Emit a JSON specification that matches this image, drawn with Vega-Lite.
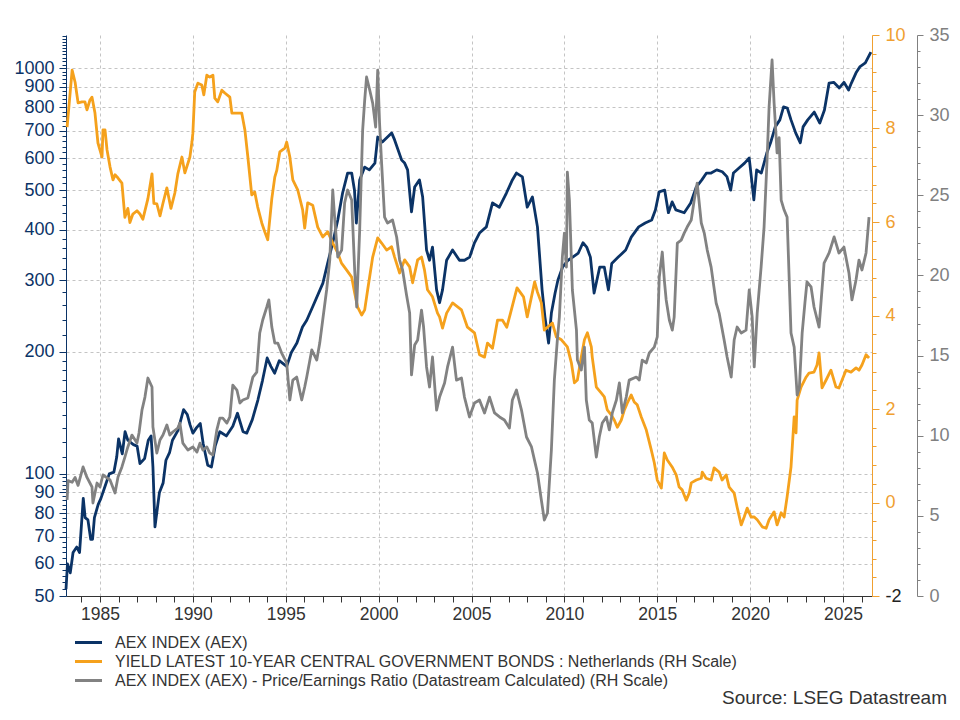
{
  "$schema": "https://vega.github.io/schema/vega-lite/v6.json",
  "width": 806,
  "height": 561,
  "autosize": {"type": "none"},
  "padding": {"left": 66, "top": 35, "right": 88, "bottom": 124},
  "background": "white",
  "config": {
    "view": {"stroke": null},
    "font": "Liberation Sans"
  },
  "title": {
    "text": "Source: LSEG Datastream",
    "orient": "bottom",
    "anchor": "end",
    "frame": "group",
    "dx": 75,
    "offset": 0,
    "fontSize": 19,
    "fontWeight": "normal",
    "font": "Liberation Sans",
    "color": "#333333"
  },
  "datasets": {
    "aex": [
      {"year": 1983.17, "value": 52}, {"year": 1983.25, "value": 60}, {"year": 1983.4, "value": 57}, {"year": 1983.55, "value": 64},
      {"year": 1983.75, "value": 66}, {"year": 1983.9, "value": 64}, {"year": 1984.1, "value": 87}, {"year": 1984.2, "value": 78},
      {"year": 1984.35, "value": 77}, {"year": 1984.5, "value": 69}, {"year": 1984.6, "value": 69}, {"year": 1984.7, "value": 78},
      {"year": 1984.9, "value": 84}, {"year": 1985.05, "value": 87}, {"year": 1985.3, "value": 94}, {"year": 1985.5, "value": 100},
      {"year": 1985.75, "value": 101}, {"year": 1985.9, "value": 110}, {"year": 1986.0, "value": 122}, {"year": 1986.2, "value": 112},
      {"year": 1986.35, "value": 127}, {"year": 1986.5, "value": 121}, {"year": 1986.8, "value": 118}, {"year": 1987.0, "value": 117},
      {"year": 1987.15, "value": 106}, {"year": 1987.4, "value": 109}, {"year": 1987.6, "value": 121}, {"year": 1987.75, "value": 124},
      {"year": 1987.85, "value": 104}, {"year": 1987.96, "value": 74}, {"year": 1988.1, "value": 83}, {"year": 1988.2, "value": 90},
      {"year": 1988.4, "value": 95}, {"year": 1988.55, "value": 108}, {"year": 1988.75, "value": 113}, {"year": 1988.9, "value": 121},
      {"year": 1989.2, "value": 128}, {"year": 1989.5, "value": 144}, {"year": 1989.7, "value": 140}, {"year": 1989.85, "value": 132},
      {"year": 1990.0, "value": 126}, {"year": 1990.2, "value": 130}, {"year": 1990.4, "value": 133}, {"year": 1990.55, "value": 119},
      {"year": 1990.8, "value": 105}, {"year": 1991.0, "value": 104}, {"year": 1991.2, "value": 117}, {"year": 1991.45, "value": 127},
      {"year": 1991.8, "value": 124}, {"year": 1992.15, "value": 131}, {"year": 1992.4, "value": 141}, {"year": 1992.7, "value": 127},
      {"year": 1992.9, "value": 126}, {"year": 1993.2, "value": 136}, {"year": 1993.5, "value": 152}, {"year": 1993.75, "value": 170},
      {"year": 1994.0, "value": 193}, {"year": 1994.2, "value": 184}, {"year": 1994.4, "value": 177}, {"year": 1994.65, "value": 190},
      {"year": 1995.05, "value": 184}, {"year": 1995.3, "value": 199}, {"year": 1995.6, "value": 210}, {"year": 1995.9, "value": 230},
      {"year": 1996.13, "value": 239}, {"year": 1996.45, "value": 258}, {"year": 1997.0, "value": 295}, {"year": 1997.26, "value": 331},
      {"year": 1997.53, "value": 371}, {"year": 1997.8, "value": 422}, {"year": 1998.06, "value": 492}, {"year": 1998.33, "value": 551},
      {"year": 1998.55, "value": 551}, {"year": 1998.7, "value": 500}, {"year": 1998.8, "value": 415}, {"year": 1998.98, "value": 530},
      {"year": 1999.25, "value": 570}, {"year": 1999.5, "value": 561}, {"year": 1999.8, "value": 583}, {"year": 1999.95, "value": 676},
      {"year": 2000.2, "value": 657}, {"year": 2000.7, "value": 692}, {"year": 2000.86, "value": 665}, {"year": 2001.24, "value": 593},
      {"year": 2001.4, "value": 583}, {"year": 2001.56, "value": 561}, {"year": 2001.77, "value": 442}, {"year": 2001.94, "value": 509},
      {"year": 2002.2, "value": 530}, {"year": 2002.37, "value": 481}, {"year": 2002.58, "value": 356}, {"year": 2002.74, "value": 336},
      {"year": 2002.9, "value": 362}, {"year": 2003.12, "value": 284}, {"year": 2003.28, "value": 264}, {"year": 2003.44, "value": 284},
      {"year": 2003.66, "value": 336}, {"year": 2003.98, "value": 356}, {"year": 2004.35, "value": 336}, {"year": 2004.62, "value": 336},
      {"year": 2004.9, "value": 342}, {"year": 2005.16, "value": 371}, {"year": 2005.43, "value": 392}, {"year": 2005.8, "value": 406},
      {"year": 2006.13, "value": 465}, {"year": 2006.5, "value": 454}, {"year": 2006.88, "value": 492}, {"year": 2007.2, "value": 530},
      {"year": 2007.42, "value": 551}, {"year": 2007.74, "value": 539}, {"year": 2008.0, "value": 454}, {"year": 2008.28, "value": 481},
      {"year": 2008.55, "value": 406}, {"year": 2008.8, "value": 284}, {"year": 2008.95, "value": 244}, {"year": 2009.15, "value": 210},
      {"year": 2009.3, "value": 249}, {"year": 2009.5, "value": 279}, {"year": 2009.65, "value": 300}, {"year": 2009.9, "value": 323},
      {"year": 2010.2, "value": 336}, {"year": 2010.45, "value": 342}, {"year": 2010.75, "value": 350}, {"year": 2011.0, "value": 371},
      {"year": 2011.2, "value": 362}, {"year": 2011.4, "value": 342}, {"year": 2011.6, "value": 279}, {"year": 2011.9, "value": 323},
      {"year": 2012.15, "value": 323}, {"year": 2012.37, "value": 284}, {"year": 2012.55, "value": 330}, {"year": 2012.9, "value": 342},
      {"year": 2013.3, "value": 356}, {"year": 2013.6, "value": 383}, {"year": 2014.0, "value": 406}, {"year": 2014.35, "value": 415},
      {"year": 2014.7, "value": 422}, {"year": 2014.9, "value": 447}, {"year": 2015.1, "value": 495}, {"year": 2015.4, "value": 500},
      {"year": 2015.6, "value": 440}, {"year": 2015.8, "value": 468}, {"year": 2016.0, "value": 447}, {"year": 2016.45, "value": 440},
      {"year": 2016.8, "value": 465}, {"year": 2017.1, "value": 509}, {"year": 2017.4, "value": 530}, {"year": 2017.65, "value": 551},
      {"year": 2017.9, "value": 551}, {"year": 2018.2, "value": 561}, {"year": 2018.5, "value": 555}, {"year": 2018.75, "value": 540},
      {"year": 2018.95, "value": 500}, {"year": 2019.1, "value": 551}, {"year": 2019.4, "value": 567}, {"year": 2019.7, "value": 583},
      {"year": 2019.95, "value": 600}, {"year": 2020.1, "value": 521}, {"year": 2020.2, "value": 473}, {"year": 2020.35, "value": 561},
      {"year": 2020.6, "value": 551}, {"year": 2020.9, "value": 618}, {"year": 2021.1, "value": 654}, {"year": 2021.35, "value": 716},
      {"year": 2021.6, "value": 745}, {"year": 2021.8, "value": 802}, {"year": 2022.0, "value": 797}, {"year": 2022.2, "value": 745},
      {"year": 2022.45, "value": 692}, {"year": 2022.7, "value": 654}, {"year": 2022.85, "value": 716}, {"year": 2023.1, "value": 745},
      {"year": 2023.45, "value": 779}, {"year": 2023.75, "value": 732}, {"year": 2024.0, "value": 788}, {"year": 2024.25, "value": 918},
      {"year": 2024.5, "value": 922}, {"year": 2024.8, "value": 893}, {"year": 2025.05, "value": 922}, {"year": 2025.3, "value": 883},
      {"year": 2025.45, "value": 918}, {"year": 2025.7, "value": 973}, {"year": 2025.9, "value": 1006}, {"year": 2026.2, "value": 1029},
      {"year": 2026.5, "value": 1095}
    ],
    "yield": [
      {"year": 1983.23, "value": 8.03}, {"year": 1983.5, "value": 9.25}, {"year": 1983.66, "value": 8.99}, {"year": 1983.82, "value": 8.55},
      {"year": 1984.03, "value": 8.57}, {"year": 1984.19, "value": 8.57}, {"year": 1984.3, "value": 8.4}, {"year": 1984.46, "value": 8.61},
      {"year": 1984.57, "value": 8.67}, {"year": 1984.73, "value": 8.33}, {"year": 1984.89, "value": 7.69}, {"year": 1985.11, "value": 7.39},
      {"year": 1985.16, "value": 7.97}, {"year": 1985.27, "value": 7.97}, {"year": 1985.38, "value": 7.54}, {"year": 1985.54, "value": 7.18},
      {"year": 1985.7, "value": 6.9}, {"year": 1985.81, "value": 7.01}, {"year": 1985.97, "value": 6.94}, {"year": 1986.18, "value": 6.83},
      {"year": 1986.34, "value": 6.1}, {"year": 1986.5, "value": 6.29}, {"year": 1986.61, "value": 5.99}, {"year": 1986.77, "value": 6.17},
      {"year": 1986.99, "value": 6.24}, {"year": 1987.15, "value": 6.17}, {"year": 1987.31, "value": 6.06}, {"year": 1987.58, "value": 6.5},
      {"year": 1987.8, "value": 7.03}, {"year": 1987.9, "value": 6.4}, {"year": 1988.06, "value": 6.39}, {"year": 1988.23, "value": 6.13},
      {"year": 1988.39, "value": 6.4}, {"year": 1988.6, "value": 6.73}, {"year": 1988.82, "value": 6.29}, {"year": 1989.03, "value": 6.62},
      {"year": 1989.19, "value": 7.03}, {"year": 1989.41, "value": 7.39}, {"year": 1989.57, "value": 7.05}, {"year": 1989.84, "value": 7.39},
      {"year": 1989.95, "value": 7.71}, {"year": 1990.0, "value": 7.9}, {"year": 1990.1, "value": 8.78}, {"year": 1990.27, "value": 8.97},
      {"year": 1990.48, "value": 8.93}, {"year": 1990.59, "value": 8.72}, {"year": 1990.75, "value": 9.14}, {"year": 1990.91, "value": 9.1},
      {"year": 1991.08, "value": 9.14}, {"year": 1991.18, "value": 8.65}, {"year": 1991.34, "value": 8.57}, {"year": 1991.56, "value": 8.82},
      {"year": 1991.72, "value": 8.76}, {"year": 1991.99, "value": 8.67}, {"year": 1992.1, "value": 8.33}, {"year": 1992.42, "value": 8.33},
      {"year": 1992.63, "value": 8.33}, {"year": 1992.8, "value": 7.97}, {"year": 1992.96, "value": 7.39}, {"year": 1993.17, "value": 6.58},
      {"year": 1993.33, "value": 6.64}, {"year": 1993.49, "value": 6.32}, {"year": 1993.71, "value": 5.98}, {"year": 1993.87, "value": 5.79},
      {"year": 1994.03, "value": 5.62}, {"year": 1994.25, "value": 6.5}, {"year": 1994.41, "value": 6.96}, {"year": 1994.52, "value": 7.11},
      {"year": 1994.68, "value": 7.5}, {"year": 1994.95, "value": 7.58}, {"year": 1995.05, "value": 7.71}, {"year": 1995.22, "value": 7.39},
      {"year": 1995.38, "value": 6.9}, {"year": 1995.65, "value": 6.68}, {"year": 1995.91, "value": 6.26}, {"year": 1996.02, "value": 5.87},
      {"year": 1996.18, "value": 6.41}, {"year": 1996.45, "value": 6.36}, {"year": 1996.72, "value": 5.89}, {"year": 1996.99, "value": 5.68},
      {"year": 1997.26, "value": 5.79}, {"year": 1997.53, "value": 5.55}, {"year": 1997.8, "value": 5.34}, {"year": 1998.0, "value": 5.12},
      {"year": 1998.28, "value": 4.97}, {"year": 1998.55, "value": 4.82}, {"year": 1998.71, "value": 4.48}, {"year": 1998.87, "value": 4.18},
      {"year": 1999.09, "value": 4.01}, {"year": 1999.25, "value": 4.12}, {"year": 1999.41, "value": 4.55}, {"year": 1999.68, "value": 5.25},
      {"year": 1999.95, "value": 5.66}, {"year": 2000.16, "value": 5.55}, {"year": 2000.43, "value": 5.4}, {"year": 2000.7, "value": 5.47},
      {"year": 2000.86, "value": 5.25}, {"year": 2001.13, "value": 4.91}, {"year": 2001.4, "value": 5.19}, {"year": 2001.67, "value": 5.04},
      {"year": 2001.83, "value": 4.7}, {"year": 2002.1, "value": 5.19}, {"year": 2002.31, "value": 5.25}, {"year": 2002.47, "value": 4.97},
      {"year": 2002.63, "value": 4.55}, {"year": 2002.9, "value": 4.4}, {"year": 2003.17, "value": 4.05}, {"year": 2003.28, "value": 3.97},
      {"year": 2003.44, "value": 3.73}, {"year": 2003.66, "value": 4.05}, {"year": 2003.98, "value": 4.27}, {"year": 2004.46, "value": 4.12},
      {"year": 2004.78, "value": 3.75}, {"year": 2005.16, "value": 3.63}, {"year": 2005.43, "value": 3.16}, {"year": 2005.7, "value": 3.11},
      {"year": 2005.86, "value": 3.41}, {"year": 2006.13, "value": 3.3}, {"year": 2006.4, "value": 3.9}, {"year": 2006.67, "value": 3.9},
      {"year": 2006.9, "value": 3.75}, {"year": 2007.1, "value": 4.05}, {"year": 2007.45, "value": 4.59}, {"year": 2007.8, "value": 4.4},
      {"year": 2008.0, "value": 3.97}, {"year": 2008.4, "value": 4.72}, {"year": 2008.55, "value": 4.5}, {"year": 2008.76, "value": 4.27},
      {"year": 2008.92, "value": 3.69}, {"year": 2009.09, "value": 3.75}, {"year": 2009.35, "value": 3.84}, {"year": 2009.57, "value": 3.54},
      {"year": 2009.84, "value": 3.48}, {"year": 2010.16, "value": 3.33}, {"year": 2010.38, "value": 2.98}, {"year": 2010.54, "value": 2.56},
      {"year": 2010.7, "value": 2.62}, {"year": 2010.91, "value": 3.11}, {"year": 2011.08, "value": 3.48}, {"year": 2011.24, "value": 3.63},
      {"year": 2011.45, "value": 3.33}, {"year": 2011.5, "value": 3.11}, {"year": 2011.72, "value": 2.47}, {"year": 2011.99, "value": 2.34},
      {"year": 2012.15, "value": 2.26}, {"year": 2012.31, "value": 1.98}, {"year": 2012.53, "value": 1.87}, {"year": 2012.69, "value": 1.76},
      {"year": 2012.85, "value": 1.61}, {"year": 2013.06, "value": 1.76}, {"year": 2013.23, "value": 1.98}, {"year": 2013.39, "value": 2.13},
      {"year": 2013.6, "value": 2.3}, {"year": 2013.76, "value": 2.15}, {"year": 2013.92, "value": 2.09}, {"year": 2014.14, "value": 1.83},
      {"year": 2014.41, "value": 1.55}, {"year": 2014.68, "value": 1.12}, {"year": 2014.84, "value": 0.85}, {"year": 2015.0, "value": 0.48},
      {"year": 2015.22, "value": 0.31}, {"year": 2015.38, "value": 1.06}, {"year": 2015.54, "value": 0.91}, {"year": 2015.8, "value": 0.76},
      {"year": 2016.02, "value": 0.59}, {"year": 2016.18, "value": 0.33}, {"year": 2016.34, "value": 0.27}, {"year": 2016.56, "value": 0.05},
      {"year": 2016.72, "value": 0.2}, {"year": 2016.83, "value": 0.42}, {"year": 2017.1, "value": 0.48}, {"year": 2017.37, "value": 0.52},
      {"year": 2017.42, "value": 0.65}, {"year": 2017.63, "value": 0.52}, {"year": 2017.9, "value": 0.48}, {"year": 2018.06, "value": 0.74},
      {"year": 2018.33, "value": 0.65}, {"year": 2018.49, "value": 0.48}, {"year": 2018.71, "value": 0.59}, {"year": 2018.87, "value": 0.33},
      {"year": 2019.14, "value": 0.2}, {"year": 2019.3, "value": -0.1}, {"year": 2019.52, "value": -0.48}, {"year": 2019.68, "value": -0.31},
      {"year": 2019.84, "value": -0.12}, {"year": 2020.05, "value": -0.31}, {"year": 2020.22, "value": -0.31}, {"year": 2020.38, "value": -0.37},
      {"year": 2020.65, "value": -0.52}, {"year": 2020.86, "value": -0.55}, {"year": 2021.02, "value": -0.37}, {"year": 2021.29, "value": -0.2},
      {"year": 2021.45, "value": -0.48}, {"year": 2021.67, "value": -0.22}, {"year": 2021.83, "value": -0.31}, {"year": 2021.99, "value": 0.12},
      {"year": 2022.2, "value": 0.76}, {"year": 2022.37, "value": 1.83}, {"year": 2022.47, "value": 1.49}, {"year": 2022.53, "value": 2.19},
      {"year": 2022.74, "value": 2.47}, {"year": 2023.01, "value": 2.68}, {"year": 2023.17, "value": 2.77}, {"year": 2023.44, "value": 2.79},
      {"year": 2023.6, "value": 2.94}, {"year": 2023.71, "value": 3.2}, {"year": 2023.87, "value": 2.45}, {"year": 2024.09, "value": 2.62},
      {"year": 2024.35, "value": 2.83}, {"year": 2024.62, "value": 2.47}, {"year": 2024.78, "value": 2.45}, {"year": 2024.95, "value": 2.62},
      {"year": 2025.16, "value": 2.83}, {"year": 2025.43, "value": 2.79}, {"year": 2025.7, "value": 2.88}, {"year": 2025.86, "value": 2.83},
      {"year": 2026.02, "value": 2.94}, {"year": 2026.24, "value": 3.16}, {"year": 2026.4, "value": 3.09}
    ],
    "pe": [
      {"year": 1983.23, "value": 6.0}, {"year": 1983.28, "value": 7.2}, {"year": 1983.5, "value": 7.1}, {"year": 1983.66, "value": 7.4},
      {"year": 1983.82, "value": 6.9}, {"year": 1984.09, "value": 8.05}, {"year": 1984.3, "value": 7.4}, {"year": 1984.57, "value": 6.8},
      {"year": 1984.62, "value": 5.8}, {"year": 1984.84, "value": 7.05}, {"year": 1985.0, "value": 6.8}, {"year": 1985.16, "value": 7.55},
      {"year": 1985.54, "value": 7.24}, {"year": 1985.81, "value": 6.43}, {"year": 1985.97, "value": 7.42}, {"year": 1986.18, "value": 8.05},
      {"year": 1986.34, "value": 8.67}, {"year": 1986.5, "value": 9.3}, {"year": 1986.72, "value": 10.04}, {"year": 1986.99, "value": 9.54},
      {"year": 1987.1, "value": 10.17}, {"year": 1987.26, "value": 11.6}, {"year": 1987.42, "value": 12.41}, {"year": 1987.58, "value": 13.6},
      {"year": 1987.8, "value": 13.04}, {"year": 1987.85, "value": 10.54}, {"year": 1988.06, "value": 8.92}, {"year": 1988.23, "value": 9.73},
      {"year": 1988.39, "value": 10.04}, {"year": 1988.6, "value": 10.67}, {"year": 1988.76, "value": 10.04}, {"year": 1988.92, "value": 10.23},
      {"year": 1989.19, "value": 10.48}, {"year": 1989.3, "value": 10.79}, {"year": 1989.46, "value": 9.54}, {"year": 1989.73, "value": 9.11},
      {"year": 1990.0, "value": 9.3}, {"year": 1990.22, "value": 8.98}, {"year": 1990.38, "value": 9.54}, {"year": 1990.54, "value": 9.11},
      {"year": 1990.75, "value": 9.3}, {"year": 1990.91, "value": 8.92}, {"year": 1991.08, "value": 8.8}, {"year": 1991.29, "value": 10.36},
      {"year": 1991.45, "value": 11.1}, {"year": 1991.61, "value": 11.1}, {"year": 1991.83, "value": 10.79}, {"year": 1991.99, "value": 11.17},
      {"year": 1992.15, "value": 13.16}, {"year": 1992.37, "value": 12.85}, {"year": 1992.53, "value": 12.04}, {"year": 1992.69, "value": 12.23},
      {"year": 1992.96, "value": 12.35}, {"year": 1993.23, "value": 13.66}, {"year": 1993.44, "value": 13.97}, {"year": 1993.6, "value": 16.41},
      {"year": 1993.76, "value": 17.22}, {"year": 1993.98, "value": 18.03}, {"year": 1994.09, "value": 18.47}, {"year": 1994.25, "value": 16.78},
      {"year": 1994.41, "value": 15.78}, {"year": 1994.57, "value": 15.78}, {"year": 1994.78, "value": 15.16}, {"year": 1995.05, "value": 14.54},
      {"year": 1995.22, "value": 12.23}, {"year": 1995.38, "value": 13.47}, {"year": 1995.59, "value": 13.66}, {"year": 1995.86, "value": 12.23},
      {"year": 1996.02, "value": 13.04}, {"year": 1996.13, "value": 13.66}, {"year": 1996.4, "value": 15.35}, {"year": 1996.67, "value": 14.72},
      {"year": 1996.83, "value": 15.78}, {"year": 1996.99, "value": 17.22}, {"year": 1997.2, "value": 19.09}, {"year": 1997.37, "value": 20.96},
      {"year": 1997.53, "value": 25.33}, {"year": 1997.63, "value": 23.64}, {"year": 1997.8, "value": 21.15}, {"year": 1998.01, "value": 21.58},
      {"year": 1998.17, "value": 24.52}, {"year": 1998.33, "value": 25.33}, {"year": 1998.55, "value": 24.7}, {"year": 1998.71, "value": 20.34},
      {"year": 1998.82, "value": 18.03}, {"year": 1998.98, "value": 22.83}, {"year": 1999.14, "value": 29.07}, {"year": 1999.25, "value": 30.94},
      {"year": 1999.35, "value": 32.38}, {"year": 1999.52, "value": 31.57}, {"year": 1999.68, "value": 30.75}, {"year": 1999.84, "value": 29.26},
      {"year": 1999.95, "value": 32.81}, {"year": 2000.05, "value": 29.51}, {"year": 2000.16, "value": 27.01}, {"year": 2000.32, "value": 23.64},
      {"year": 2000.48, "value": 23.27}, {"year": 2000.75, "value": 23.46}, {"year": 2000.97, "value": 22.4}, {"year": 2001.13, "value": 20.96},
      {"year": 2001.29, "value": 20.34}, {"year": 2001.5, "value": 18.8}, {"year": 2001.67, "value": 17.65}, {"year": 2001.77, "value": 13.79},
      {"year": 2001.94, "value": 15.66}, {"year": 2002.1, "value": 15.97}, {"year": 2002.31, "value": 17.84}, {"year": 2002.42, "value": 16.78},
      {"year": 2002.58, "value": 14.29}, {"year": 2002.74, "value": 13.04}, {"year": 2002.9, "value": 14.91}, {"year": 2003.12, "value": 11.6},
      {"year": 2003.28, "value": 12.41}, {"year": 2003.55, "value": 13.29}, {"year": 2003.71, "value": 14.29}, {"year": 2003.98, "value": 15.53},
      {"year": 2004.19, "value": 13.47}, {"year": 2004.46, "value": 13.6}, {"year": 2004.62, "value": 12.41}, {"year": 2004.89, "value": 11.17},
      {"year": 2005.16, "value": 12.04}, {"year": 2005.43, "value": 12.23}, {"year": 2005.7, "value": 11.42}, {"year": 2005.97, "value": 12.41},
      {"year": 2006.24, "value": 11.42}, {"year": 2006.51, "value": 11.17}, {"year": 2006.77, "value": 10.98}, {"year": 2007.04, "value": 10.48},
      {"year": 2007.2, "value": 12.23}, {"year": 2007.42, "value": 12.85}, {"year": 2007.69, "value": 11.6}, {"year": 2007.96, "value": 9.92},
      {"year": 2008.23, "value": 9.3}, {"year": 2008.39, "value": 8.48}, {"year": 2008.55, "value": 7.67}, {"year": 2008.76, "value": 5.99},
      {"year": 2008.92, "value": 4.74}, {"year": 2009.09, "value": 5.18}, {"year": 2009.3, "value": 9.11}, {"year": 2009.46, "value": 13.47},
      {"year": 2009.62, "value": 15.97}, {"year": 2009.73, "value": 17.4}, {"year": 2009.89, "value": 21.15}, {"year": 2010.0, "value": 22.64},
      {"year": 2010.11, "value": 20.52}, {"year": 2010.16, "value": 26.45}, {"year": 2010.27, "value": 24.7}, {"year": 2010.43, "value": 19.09},
      {"year": 2010.65, "value": 16.59}, {"year": 2010.7, "value": 14.72}, {"year": 2010.91, "value": 14.1}, {"year": 2011.08, "value": 15.53},
      {"year": 2011.18, "value": 12.23}, {"year": 2011.34, "value": 10.98}, {"year": 2011.5, "value": 10.79}, {"year": 2011.72, "value": 8.67},
      {"year": 2011.88, "value": 9.92}, {"year": 2012.04, "value": 10.79}, {"year": 2012.26, "value": 11.17}, {"year": 2012.42, "value": 10.36},
      {"year": 2012.58, "value": 11.42}, {"year": 2012.8, "value": 12.23}, {"year": 2012.96, "value": 13.29}, {"year": 2013.12, "value": 11.42},
      {"year": 2013.33, "value": 12.41}, {"year": 2013.49, "value": 13.47}, {"year": 2013.87, "value": 13.66}, {"year": 2014.03, "value": 13.47},
      {"year": 2014.19, "value": 14.72}, {"year": 2014.41, "value": 14.54}, {"year": 2014.57, "value": 15.16}, {"year": 2014.84, "value": 15.53},
      {"year": 2015.0, "value": 16.16}, {"year": 2015.11, "value": 19.9}, {"year": 2015.27, "value": 21.46}, {"year": 2015.38, "value": 19.71},
      {"year": 2015.48, "value": 18.47}, {"year": 2015.65, "value": 17.22}, {"year": 2015.81, "value": 16.59}, {"year": 2015.91, "value": 17.4},
      {"year": 2016.08, "value": 22.02}, {"year": 2016.29, "value": 22.2}, {"year": 2016.45, "value": 22.64}, {"year": 2016.61, "value": 23.02},
      {"year": 2016.83, "value": 23.46}, {"year": 2016.99, "value": 24.7}, {"year": 2017.15, "value": 25.76}, {"year": 2017.37, "value": 23.27},
      {"year": 2017.53, "value": 22.64}, {"year": 2017.69, "value": 21.58}, {"year": 2017.9, "value": 20.52}, {"year": 2018.17, "value": 18.28},
      {"year": 2018.33, "value": 17.65}, {"year": 2018.6, "value": 15.97}, {"year": 2018.76, "value": 14.91}, {"year": 2018.98, "value": 13.66},
      {"year": 2019.14, "value": 15.97}, {"year": 2019.3, "value": 16.78}, {"year": 2019.52, "value": 16.41}, {"year": 2019.78, "value": 16.59},
      {"year": 2019.95, "value": 19.09}, {"year": 2020.11, "value": 17.4}, {"year": 2020.22, "value": 14.29}, {"year": 2020.38, "value": 17.65},
      {"year": 2020.59, "value": 20.52}, {"year": 2020.75, "value": 23.02}, {"year": 2020.91, "value": 27.2}, {"year": 2021.02, "value": 30.5},
      {"year": 2021.18, "value": 33.44}, {"year": 2021.29, "value": 30.75}, {"year": 2021.45, "value": 27.64}, {"year": 2021.56, "value": 28.6},
      {"year": 2021.67, "value": 24.7}, {"year": 2021.83, "value": 24.08}, {"year": 2021.99, "value": 23.64}, {"year": 2022.2, "value": 16.41},
      {"year": 2022.37, "value": 15.53}, {"year": 2022.53, "value": 12.54}, {"year": 2022.65, "value": 13.0}, {"year": 2022.8, "value": 16.4},
      {"year": 2022.95, "value": 18.3}, {"year": 2023.06, "value": 19.59}, {"year": 2023.28, "value": 19.28}, {"year": 2023.44, "value": 18.03},
      {"year": 2023.71, "value": 16.78}, {"year": 2023.98, "value": 20.77}, {"year": 2024.25, "value": 21.4}, {"year": 2024.52, "value": 22.4},
      {"year": 2024.78, "value": 21.4}, {"year": 2025.05, "value": 21.77}, {"year": 2025.32, "value": 20.15}, {"year": 2025.48, "value": 18.47},
      {"year": 2025.7, "value": 19.71}, {"year": 2025.86, "value": 20.96}, {"year": 2026.02, "value": 20.34}, {"year": 2026.24, "value": 21.4},
      {"year": 2026.4, "value": 23.64}
    ]
  },
  "encoding": {
    "x": {
      "field": "year",
      "type": "quantitative",
      "scale": {"domain": [1983.17, 2026.56], "nice": false, "zero": false},
      "axis": {
        "title": null,
        "values": [1984, 1985, 1986, 1987, 1988, 1989, 1990, 1991, 1992, 1993, 1994, 1995, 1996, 1997, 1998, 1999, 2000, 2001, 2002, 2003, 2004, 2005, 2006, 2007, 2008, 2009, 2010, 2011, 2012, 2013, 2014, 2015, 2016, 2017, 2018, 2019, 2020, 2021, 2022, 2023, 2024, 2025, 2026],
        "labelExpr": "datum.value % 5 == 0 ? '' + datum.value : ''",
        "labelOverlap": false,
        "labelFlush": false,
        "labelFontSize": 17.5,
        "labelColor": "#333333",
        "labelPadding": 3,
        "domainColor": "#333333",
        "tickColor": "#333333",
        "tickSize": 6,
        "grid": true,
        "gridColor": "#c4c4c4",
        "gridDash": [3, 3],
        "gridOpacity": {"condition": {"test": "datum.value % 5 == 0", "value": 1}, "value": 0}
      }
    }
  },
  "layer": [
    {
      "data": {"name": "aex"},
      "mark": {"type": "line", "strokeWidth": 2.8, "strokeJoin": "round"},
      "encoding": {
        "y": {
          "field": "value",
          "type": "quantitative",
          "scale": {"type": "log", "domain": [50, 1206], "nice": false},
          "axis": {
            "title": null,
            "orient": "left",
            "values": [50, 52, 54, 56, 58, 60, 62, 64, 66, 68, 70, 72, 74, 76, 78, 80, 82, 84, 86, 88, 90, 92, 94, 96, 98, 100, 110, 120, 130, 140, 150, 160, 170, 180, 190, 200, 220, 240, 260, 280, 300, 320, 340, 360, 380, 400, 420, 440, 460, 480, 500, 520, 540, 560, 580, 600, 620, 640, 660, 680, 700, 720, 740, 760, 780, 800, 820, 840, 860, 880, 900, 920, 940, 960, 980, 1000, 1020, 1040, 1060, 1080, 1100, 1120, 1140, 1160, 1180, 1200],
            "labelExpr": "indexof([50,60,70,80,90,100,200,300,400,500,600,700,800,900,1000], datum.value) >= 0 ? '' + datum.value : ''",
            "labelOverlap": false,
            "labelFlush": false,
            "labelFontSize": 18,
            "labelColor": "#0b3366",
            "labelPadding": 5,
            "domainColor": "#0b3366",
            "tickColor": "#0b3366",
            "tickSize": {"condition": {"test": "indexof([50,60,70,80,90,100,200,300,400,500,600,700,800,900,1000], datum.value) >= 0", "value": 7}, "value": 4},
            "grid": true,
            "gridColor": "#c4c4c4",
            "gridDash": [3, 3],
            "gridOpacity": {"condition": {"test": "indexof([60,70,80,90,100,200,300,400,500,600,700,800,900,1000], datum.value) >= 0", "value": 1}, "value": 0}
          }
        },
        "color": {
          "datum": "AEX INDEX (AEX)",
          "type": "nominal",
          "scale": {
            "domain": ["AEX INDEX (AEX)", "YIELD LATEST 10-YEAR CENTRAL GOVERNMENT BONDS : Netherlands (RH Scale)", "AEX INDEX (AEX) - Price/Earnings Ratio (Datastream Calculated) (RH Scale)"],
            "range": ["#0b3366", "#f5a11c", "#828282"]
          },
          "legend": {
            "title": null,
            "orient": "none",
            "legendX": 14,
            "legendY": 599,
            "padding": 0,
            "symbolType": "M-2,0H2",
            "symbolSize": 182,
            "symbolStrokeWidth": 3,
            "labelFontSize": 16,
            "labelColor": "#333333",
            "labelOffset": 18,
            "labelLimit": 900,
            "rowPadding": 2
          }
        }
      }
    },
    {
      "data": {"name": "yield"},
      "mark": {"type": "line", "strokeWidth": 2.8, "strokeJoin": "round"},
      "encoding": {
        "y": {
          "field": "value",
          "type": "quantitative",
          "scale": {"domain": [-2, 10], "nice": false, "zero": false},
          "axis": {
            "title": null,
            "orient": "right",
            "values": [-2, -1.6, -1.2, -0.8, -0.4, 0, 0.4, 0.8, 1.2, 1.6, 2, 2.4, 2.8, 3.2, 3.6, 4, 4.4, 4.8, 5.2, 5.6, 6, 6.4, 6.8, 7.2, 7.6, 8, 8.4, 8.8, 9.2, 9.6, 10],
            "labelExpr": "abs(datum.value % 2) < 0.001 ? '' + datum.value : ''",
            "labelOverlap": false,
            "labelFlush": false,
            "labelFontSize": 18,
            "labelColor": {"condition": {"test": "datum.value == -2", "value": "#222222"}, "value": "#f0a030"},
            "labelPadding": 6,
            "domainColor": "#f0a030",
            "tickColor": "#f0a030",
            "tickSize": {"condition": {"test": "abs(datum.value % 2) < 0.001", "value": 7}, "value": 4},
            "grid": false
          }
        },
        "color": {"datum": "YIELD LATEST 10-YEAR CENTRAL GOVERNMENT BONDS : Netherlands (RH Scale)", "type": "nominal"}
      }
    },
    {
      "data": {"name": "pe"},
      "mark": {"type": "line", "strokeWidth": 2.8, "strokeJoin": "round"},
      "encoding": {
        "y": {
          "field": "value",
          "type": "quantitative",
          "scale": {"domain": [0, 35], "nice": false},
          "axis": {
            "title": null,
            "orient": "right",
            "offset": 45,
            "values": [0, 1, 2, 3, 4, 5, 6, 7, 8, 9, 10, 11, 12, 13, 14, 15, 16, 17, 18, 19, 20, 21, 22, 23, 24, 25, 26, 27, 28, 29, 30, 31, 32, 33, 34, 35],
            "labelExpr": "datum.value % 5 == 0 ? '' + datum.value : ''",
            "labelOverlap": false,
            "labelFlush": false,
            "labelFontSize": 18,
            "labelColor": "#808080",
            "labelPadding": 6,
            "domainColor": "#808080",
            "tickColor": "#808080",
            "tickSize": {"condition": {"test": "datum.value % 5 == 0", "value": 6}, "value": 3},
            "grid": false
          }
        },
        "color": {"datum": "AEX INDEX (AEX) - Price/Earnings Ratio (Datastream Calculated) (RH Scale)", "type": "nominal"}
      }
    }
  ],
  "resolve": {"scale": {"y": "independent"}}
}
